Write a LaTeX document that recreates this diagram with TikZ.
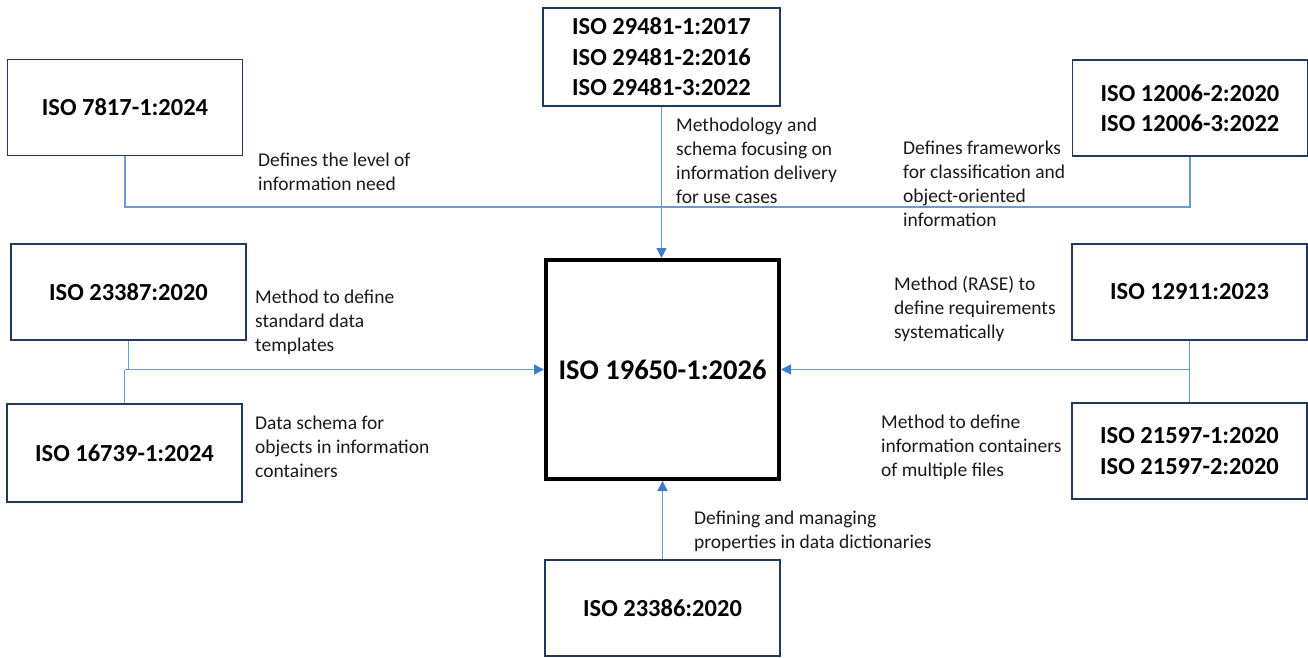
\documentclass[tikz,border=0pt]{standalone}
\usepackage{fontspec}
\setmainfont{Carlito}
\usetikzlibrary{arrows.meta}
\definecolor{boxnavy}{HTML}{1F3A5F}
\definecolor{linkblue}{HTML}{6A9AD4}
\definecolor{tipblue}{HTML}{3E7CC4}
\begin{document}
\begin{tikzpicture}[x=1pt,y=-1pt,
  stdbox/.style={draw=boxnavy,line width=1.5pt,rectangle,inner sep=0pt,
    minimum width=235pt,minimum height=96pt,align=center,
    font={\fontsize{24.5}{30.5}\selectfont\bfseries}},
  mainbox/.style={draw=black,line width=4pt,rectangle,inner sep=0pt,
    minimum width=233pt,minimum height=219pt,
    font={\fontsize{28.5}{34}\selectfont\bfseries}},
  note/.style={anchor=west,inner sep=0pt,align=left,text=black!90,
    font={\fontsize{19.5}{24}\selectfont}},
  link/.style={draw=linkblue,line width=1.4pt},
  arrowlink/.style={link,-{Triangle[length=10pt,width=10pt,color=tipblue]}}
]
\useasboundingbox (0,0) rectangle (1308,658);

% boxes
\node[stdbox] (b7817) at (125,107.5) {ISO 7817-1:2024};
\node[stdbox,minimum width=237pt,minimum height=98pt] (b29481) at (661.5,57) {ISO 29481-1:2017\\ISO 29481-2:2016\\ISO 29481-3:2022};
\node[stdbox] (b12006) at (1190,108) {ISO 12006-2:2020\\ISO 12006-3:2022};
\node[stdbox] (b23387) at (128.5,292) {ISO 23387:2020};
\node[stdbox,minimum height=98pt] (b16739) at (124.5,453) {ISO 16739-1:2024};
\node[stdbox] (b12911) at (1189.5,292) {ISO 12911:2023};
\node[stdbox] (b21597) at (1189.5,451) {ISO 21597-1:2020\\ISO 21597-2:2020};
\node[stdbox] (b23386) at (662.5,608) {ISO 23386:2020};
\node[mainbox] (main) at (662.5,369.5) {ISO 19650-1:2026};

% junction points
\coordinate (topL) at (125,207);
\coordinate (topR) at (1190,207);
\coordinate (midL) at (126,369.5);

% connectors
\draw[link] (b7817.south) -- (topL) -- (topR) -- (b12006.south);
\draw[arrowlink] (b29481.south) -- (b29481.south |- main.north);
\draw[link] (b23387.south) -- (b23387.south |- midL) -- (b16739.north |- midL);
\draw[link] (b16739.north) -- (b16739.north |- midL);
\draw[arrowlink] (b16739.north |- midL) -- (main.west);
\draw[link] (b12911.south) -- (b21597.north);
\draw[arrowlink] (b12911.south |- main.east) -- (main.east);
\draw[arrowlink] (b23386.north) -- (main.south);

% labels
\node[note] (n7817) at (258,172) {Defines the level of\\information need};
\node[note] (n29481) at (676,161) {Methodology and\\schema focusing on\\information delivery\\for use cases};
\node[note] (n12006) at (903,184) {Defines frameworks\\for classification and\\object-oriented\\information};
\node[note] (n23387) at (255,322) {Method to define\\standard data\\templates};
\node[note] (n16739) at (255,447) {Data schema for\\objects in information\\containers};
\node[note] (n12911) at (894,309) {Method (RASE) to\\define requirements\\systematically};
\node[note] (n21597) at (881,447) {Method to define\\information containers\\of multiple files};
\node[note] (n23386) at (694,531) {Defining and managing\\properties in data dictionaries};
\end{tikzpicture}
\end{document}
